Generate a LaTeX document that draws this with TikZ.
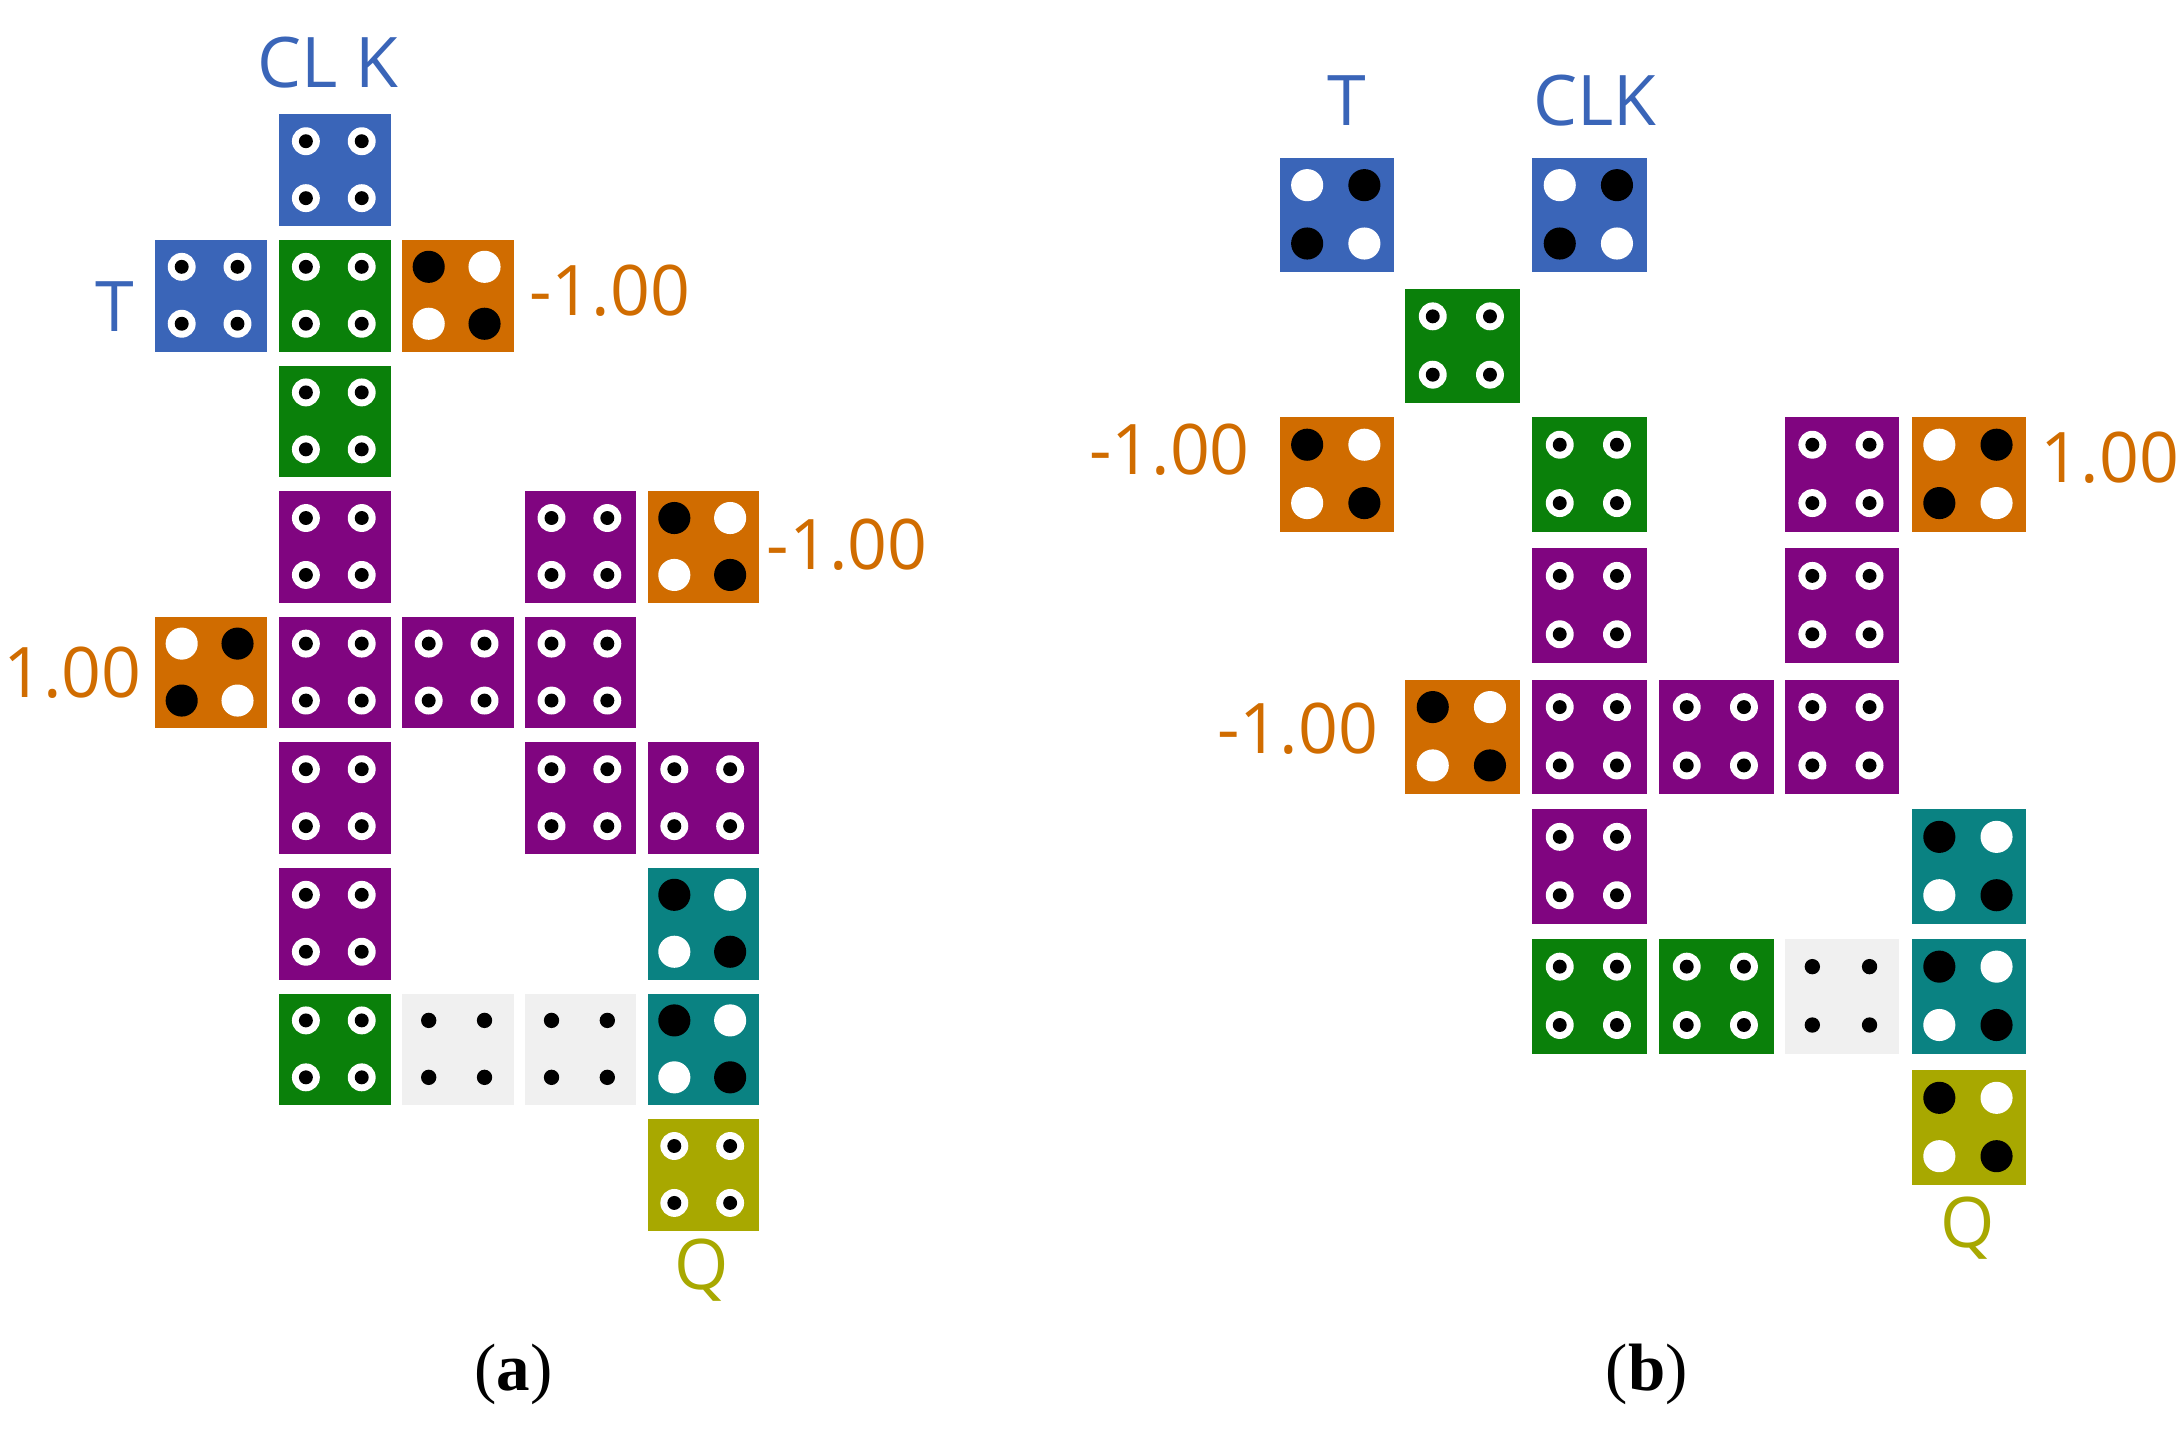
\documentclass[tikz,border=0pt]{standalone}
\usepackage{fontspec}
\setmainfont{Liberation Serif}
\newfontfamily\lab{Open Sans}
\definecolor{cb}{HTML}{3A65B8}
\definecolor{cg}{HTML}{0A800A}
\definecolor{co}{HTML}{D06C00}
\definecolor{cp}{HTML}{800580}
\definecolor{ct}{HTML}{0A8282}
\definecolor{cy}{HTML}{A8A800}
\definecolor{cs}{HTML}{F0F0F0}
\tikzset{
 r/.pic={\fill[white] (0,0) circle (10); \fill[black] (0,0) circle (5);},
 b/.pic={\fill[black] (0,0) circle (11.5);},
 w/.pic={\fill[white] (0,0) circle (11.5);},
 s/.pic={\fill[black] (0,0) circle (5.5);},
 lbl/.style={font=\lab\fontsize{50}{56}\selectfont, inner sep=0pt}
}
\newcommand\cl[8]{%
 \fill[#4] (#1,-#2) rectangle ++(#3,-#3);
 \pic at ($(#1,-#2)+(0.24*#3,-0.24*#3)$) {#5};
 \pic at ($(#1,-#2)+(0.74*#3,-0.24*#3)$) {#6};
 \pic at ($(#1,-#2)+(0.24*#3,-0.75*#3)$) {#7};
 \pic at ($(#1,-#2)+(0.74*#3,-0.75*#3)$) {#8};}
\usetikzlibrary{calc}
\begin{document}
\begin{tikzpicture}[x=1pt,y=1pt]
\useasboundingbox (0,0) rectangle (1560,-1024);
% (a)
\cl{200}{82}{80}{cb}{r}{r}{r}{r}
\cl{111}{172}{80}{cb}{r}{r}{r}{r}
\cl{200}{172}{80}{cg}{r}{r}{r}{r}
\cl{288}{172}{80}{co}{b}{w}{w}{b}
\cl{200}{262}{80}{cg}{r}{r}{r}{r}
\cl{200}{352}{80}{cp}{r}{r}{r}{r}
\cl{376}{352}{80}{cp}{r}{r}{r}{r}
\cl{464}{352}{80}{co}{b}{w}{w}{b}
\cl{111}{442}{80}{co}{w}{b}{b}{w}
\cl{200}{442}{80}{cp}{r}{r}{r}{r}
\cl{288}{442}{80}{cp}{r}{r}{r}{r}
\cl{376}{442}{80}{cp}{r}{r}{r}{r}
\cl{200}{532}{80}{cp}{r}{r}{r}{r}
\cl{376}{532}{80}{cp}{r}{r}{r}{r}
\cl{464}{532}{80}{cp}{r}{r}{r}{r}
\cl{200}{622}{80}{cp}{r}{r}{r}{r}
\cl{464}{622}{80}{ct}{b}{w}{w}{b}
\cl{200}{712}{80}{cg}{r}{r}{r}{r}
\cl{288}{712}{80}{cs}{s}{s}{s}{s}
\cl{376}{712}{80}{cs}{s}{s}{s}{s}
\cl{464}{712}{80}{ct}{b}{w}{w}{b}
\cl{464}{802}{80}{cy}{r}{r}{r}{r}
\node[lbl,text=cb] (clka) at (235,-45) {CL K};
\node[lbl,text=cb] (ta) at (82,-220) {T};
\node[lbl,text=co] (m1a) at (437,-208) {-1.00};
\node[lbl,text=co] (m2a) at (607,-390) {-1.00};
\node[lbl,text=co] (p1a) at (52,-482) {1.00};
\node[lbl,text=cy] (qa) at (503,-910) {Q};
\node[font=\fontsize{48}{54}\selectfont] (capa) at (368,-985) {(\textbf{a})};
% (b)
\cl{917}{113}{82}{cb}{w}{b}{b}{w}
\cl{1098}{113}{82}{cb}{w}{b}{b}{w}
\cl{1007}{207}{82}{cg}{r}{r}{r}{r}
\cl{917}{299}{82}{co}{b}{w}{w}{b}
\cl{1098}{299}{82}{cg}{r}{r}{r}{r}
\cl{1279}{299}{82}{cp}{r}{r}{r}{r}
\cl{1370}{299}{82}{co}{w}{b}{b}{w}
\cl{1098}{393}{82}{cp}{r}{r}{r}{r}
\cl{1279}{393}{82}{cp}{r}{r}{r}{r}
\cl{1007}{487}{82}{co}{b}{w}{w}{b}
\cl{1098}{487}{82}{cp}{r}{r}{r}{r}
\cl{1189}{487}{82}{cp}{r}{r}{r}{r}
\cl{1279}{487}{82}{cp}{r}{r}{r}{r}
\cl{1098}{580}{82}{cp}{r}{r}{r}{r}
\cl{1370}{580}{82}{ct}{b}{w}{w}{b}
\cl{1098}{673}{82}{cg}{r}{r}{r}{r}
\cl{1189}{673}{82}{cg}{r}{r}{r}{r}
\cl{1279}{673}{82}{cs}{s}{s}{s}{s}
\cl{1370}{673}{82}{ct}{b}{w}{w}{b}
\cl{1370}{767}{82}{cy}{b}{w}{w}{b}
\node[lbl,text=cb] (tb) at (965,-72) {T};
\node[lbl,text=cb] (clkb) at (1143,-72) {CLK};
\node[lbl,text=co] (m1b) at (838,-322) {-1.00};
\node[lbl,text=co] (p1b) at (1512,-328) {1.00};
\node[lbl,text=co] (m2b) at (930,-522) {-1.00};
\node[lbl,text=cy] (qb) at (1410,-880) {Q};
\node[font=\fontsize{48}{54}\selectfont] (capb) at (1180,-985) {(\textbf{b})};
\end{tikzpicture}
\end{document}
